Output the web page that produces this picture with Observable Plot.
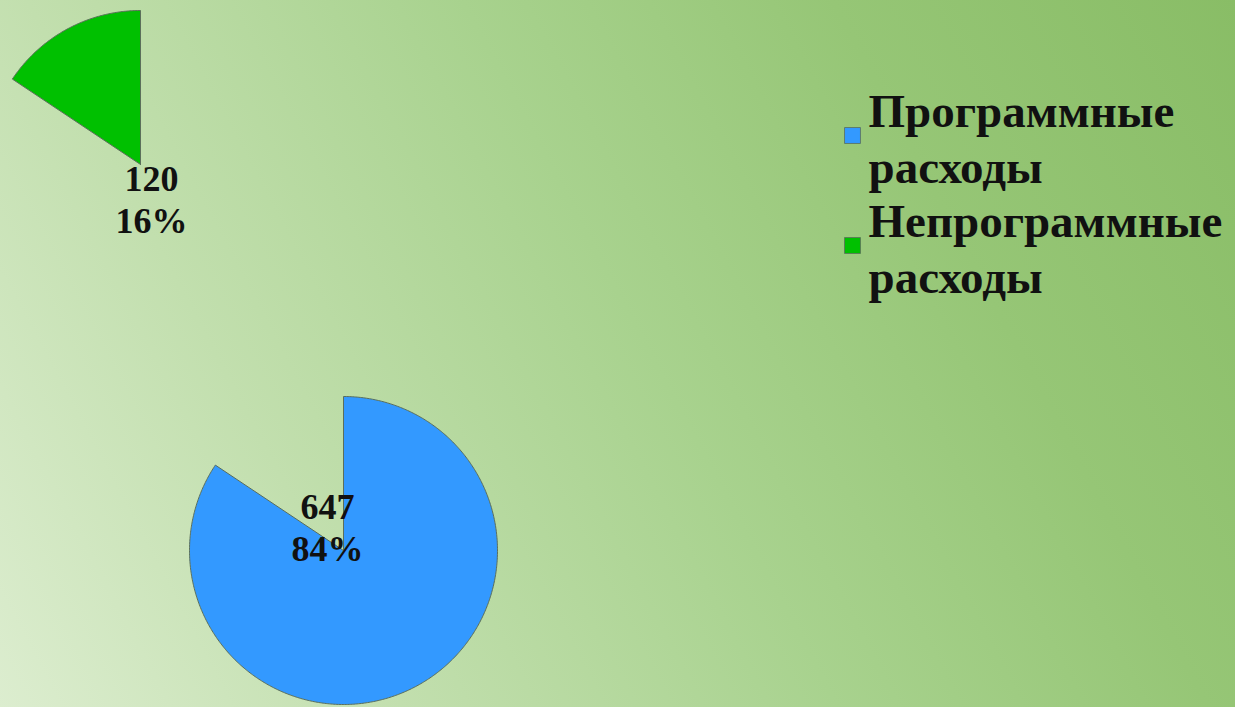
<!DOCTYPE html>
<html>
<head>
<meta charset="utf-8">
<script src="https://cdn.jsdelivr.net/npm/d3@7"></script>
<script src="https://cdn.jsdelivr.net/npm/@observablehq/plot@0.6"></script>
<style>
  html, body { margin: 0; padding: 0; overflow: hidden; }
  body { width: 1235px; height: 707px; }
</style>
</head>
<body>
<div id="chart"></div>
<script>
// ---- data ----
const categories = ["Программные расходы", "Непрограммные расходы"];
const values = [647, 120];
const percents = ["84%", "16%"];
const colors = ["#3399ff", "#00c000"];

// ---- layout ----
const W = 1235, H = 707;
const R = 154;
const centers = [[343, 550], [140, 164]];         // exploded slice apexes
const labelPos = [[327, 489], [151, 161]];        // label block tops
const legend = {x: 852, textX: 868, top: 87, step: 110, firstSquare: 135};

const pie = d3.pie().sort(null).startAngle(0).endAngle(2 * Math.PI)(values);

// build slice outlines from pie angles
const slices = pie.map((p, i) => {
  const [cx, cy] = centers[i];
  const n = Math.max(2, Math.ceil((p.endAngle - p.startAngle) / 0.01));
  const pts = [{x: cx, y: cy}];
  for (let j = 0; j <= n; j++) {
    const a = p.startAngle + (p.endAngle - p.startAngle) * j / n;
    pts.push({x: cx + R * Math.sin(a), y: cy - R * Math.cos(a)});
  }
  pts.push({x: cx, y: cy});
  return pts;
});

const labels = values.map((v, i) => ({
  x: labelPos[i][0], y: labelPos[i][1], text: `${v}\n${percents[i]}`
}));

const legendItems = categories.map((c, i) => ({
  x: legend.x, tx: legend.textX,
  sy: legend.firstSquare + i * legend.step,
  ty: legend.top + i * legend.step,
  text: c.replace(" ", "\n"), color: colors[i]
}));

const chart = Plot.plot({
  width: W, height: H,
  margin: 0,
  x: {domain: [0, W], range: [0, W], axis: null},
  y: {domain: [0, H], range: [0, H], axis: null},
  style: {
    background: "linear-gradient(62deg, #dcedcf 0%, #c2dfae 25%, #a8d28e 52%, #96c676 75%, #89bd66 100%)",
    fontFamily: "'Liberation Serif', 'DejaVu Serif', serif",
    overflow: "visible"
  },
  marks: [
    ...slices.map((pts, i) => Plot.line(pts, {
      x: "x", y: "y", fill: colors[i], stroke: "#5b6f5b", strokeWidth: 1, curve: "linear"
    })),
    Plot.text(labels, {
      x: "x", y: "y", text: "text", textAnchor: "middle", lineAnchor: "top",
      fontSize: 36, fontWeight: "bold", fill: "#111", lineHeight: 1.16
    }),
    Plot.dot(legendItems, {
      x: "x", y: "sy", symbol: "square", r: 9, fill: "color", stroke: "#5b6f5b", strokeWidth: 0.8
    }),
    Plot.text(legendItems, {
      x: "tx", y: "ty", text: "text", textAnchor: "start", lineAnchor: "top",
      fontSize: 47, fontWeight: "bold", fill: "#111", lineHeight: 1.19
    })
  ]
});
document.getElementById("chart").appendChild(chart);
</script>
</body>
</html>
